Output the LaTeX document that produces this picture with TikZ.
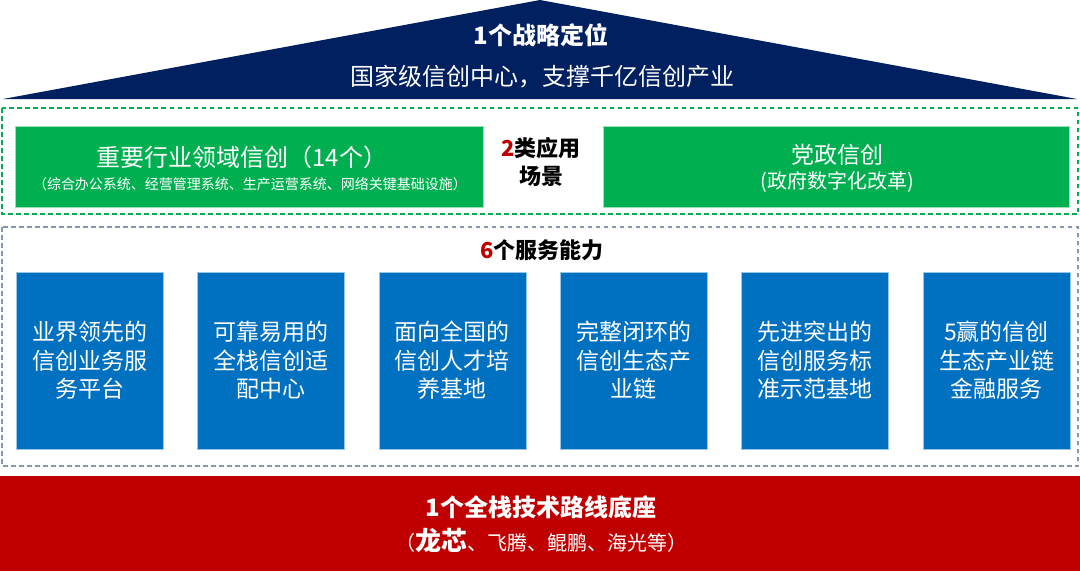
\documentclass[tikz,border=0pt]{standalone}
\usepackage{fontspec}
\setmainfont{Noto Sans CJK SC}
\usepackage{xcolor}
\usepackage{tikz}
\usetikzlibrary{positioning}
\definecolor{navy}{HTML}{002060}
\definecolor{scgreen}{HTML}{00B050}
\definecolor{svcblue}{HTML}{0070C0}
\definecolor{basered}{HTML}{C00000}
\definecolor{slate}{HTML}{8497B0}
\tikzset{
  roof/.style={fill=navy},
  base/.style={fill=basered},
  zone/.style={draw=scgreen, line width=1.1pt, dash pattern=on 4.5pt off 3.5pt},
  zonegray/.style={draw=slate, line width=1.1pt, dash pattern=on 4.5pt off 3.5pt},
  scene/.style={fill=scgreen, draw=scgreen!40, line width=0.6pt, minimum height=81pt, inner sep=0pt},
  svc/.style={fill=svcblue, draw=svcblue!40, line width=0.6pt, minimum width=147pt, minimum height=177pt,
    inner sep=0pt, text=white, align=center, font=\fontsize{23}{28.5}\selectfont},
  head/.style={text=white, font=\bfseries\fontsize{24}{28}\selectfont},
  headk/.style={text=black, align=center, font=\bfseries\fontsize{22}{28}\selectfont},
  lab/.style={text=white, font=\fontsize{23}{26}\selectfont},
  labm/.style={text=white, font=\fontsize{20}{24}\selectfont},
  labs/.style={text=white, font=\fontsize{14}{16}\selectfont},
}

\begin{document}
\begin{tikzpicture}[x=1pt,y=-1pt]
  \useasboundingbox (0,0) rectangle (1080,571);

  % roof: strategic position
  \fill[roof] (3,99) -- (540,0) -- (1077,99) -- cycle;
  \node[head] (pos) at (541,35) {1个战略定位};
  \node[lab, font=\fontsize{24}{28}\selectfont] (posline) at (542,77) {国家级信创中心，支撑千亿信创产业};

  % two application scenes
  \draw[zone] (2,108) rectangle (1078,214);
  \node[scene, minimum width=468pt] (sceneL) at (249,166.5) {};
  \node[scene, minimum width=466pt] (sceneR) at (836,166.5) {};
  \node[lab, font=\fontsize{24}{28}\selectfont] (sceneLt) at (242,157) {重要行业领域信创（14个）};
  \node[labs] (sceneLs) at (250,184) {（综合办公系统、经营管理系统、生产运营系统、网络关键基础设施）};
  \node[lab] (sceneRt) at (837,155) {党政信创};
  \node[labm] (sceneRs) at (837,182) {(政府数字化改革)};
  \node[headk] (scenes) at (541,162) {\textcolor{basered}{2}类应用\\场景};

  % six service abilities
  \draw[zonegray] (2,227) rectangle (1078,466);
  \node[headk] (svcs) at (542,250) {\textcolor{basered}{6}个服务能力};
  \foreach \i/\txt in {0/{业界领先的\\信创业务服\\务平台},
                       1/{可靠易用的\\全栈信创适\\配中心},
                       2/{面向全国的\\信创人才培\\养基地},
                       3/{完整闭环的\\信创生态产\\业链},
                       4/{先进突出的\\信创服务标\\准示范基地},
                       5/{5赢的信创\\生态产业链\\金融服务}}
    \node[svc] (svc\i) at ({89.5+181.4*\i},360.5) {\txt};

  % base: full-stack route
  \fill[base] (0,476) rectangle (1080,571);
  \node[head] (stack) at (541,507) {1个全栈技术路线底座};
  \node[labm] (stackline) at (541,541) {（{\bfseries\fontsize{26}{28}\selectfont 龙芯}、飞腾、鲲鹏、海光等）};
\end{tikzpicture}
\end{document}
